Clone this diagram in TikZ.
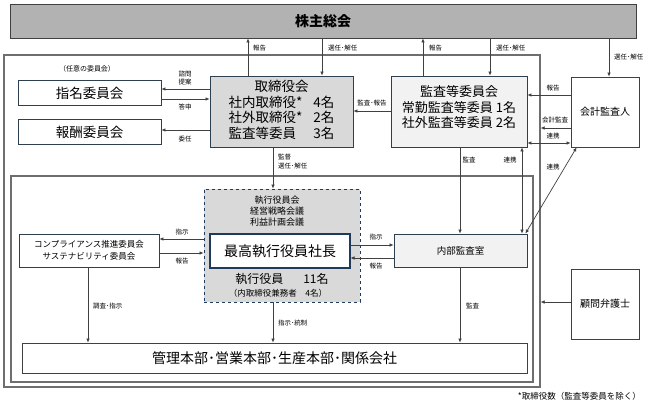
\documentclass[tikz,border=0pt]{standalone}
\usepackage{fontspec}
\setmainfont{Noto Sans CJK JP}
\usetikzlibrary{arrows.meta}
\definecolor{bordc}{HTML}{2E4050}
\definecolor{darkc}{HTML}{404040}
\definecolor{framec}{HTML}{6E6E6E}
\definecolor{gmfill}{HTML}{B2B2B2}
\definecolor{midfill}{HTML}{D9D9D9}
\definecolor{lightfill}{HTML}{F2F2F2}
\definecolor{ceoc}{HTML}{1F3A5A}
\begin{document}
\begin{tikzpicture}[x=1pt,y=-1pt,
  boxbase/.style={inner sep=0pt, line width=0.8pt, align=center},
  wbox/.style={boxbase, draw=bordc, fill=white},
  gbox/.style={boxbase, draw=bordc, fill=midfill},
  lbox/.style={boxbase, draw=bordc, fill=lightfill},
  kbox/.style={boxbase, draw=darkc, fill=white},
  framebox/.style={draw=framec, line width=1.2pt, inner sep=0pt},
  arr/.style={draw=darkc, line width=0.7pt, -{Latex[length=4pt,width=3.6pt]}},
  darr/.style={draw=darkc, line width=0.7pt, {Latex[length=4pt,width=3.6pt]}-{Latex[length=4pt,width=3.6pt]}},
  lab/.style={inner sep=0pt, font=\fontsize{6.5}{7.5}\selectfont, align=left},
  big/.style={font=\fontsize{13.5}{14}\selectfont},
]
\useasboundingbox (0,0) rectangle (648,407);
\fill[white] (0,0) rectangle (648,407);

% frames
\node[framebox, minimum width=536, minimum height=332] (outer) at (272,221) {};
\node[framebox, minimum width=522, minimum height=206] (inner) at (272,279) {};

% boxes
\node[boxbase, draw=darkc, fill=gmfill, minimum width=626, minimum height=34, font=\fontsize{14}{16}\selectfont\bfseries] (gm) at (323,21) {株主総会};
\node[lab, font=\fontsize{7}{8}\selectfont] (nini) at (87,69) {（任意の委員会）};
\node[wbox, minimum width=143, minimum height=25, big] (nom) at (89.5,93) {指名委員会};
\node[wbox, minimum width=143, minimum height=25, big] (rem) at (89.5,132) {報酬委員会};
\node[gbox, minimum width=143, minimum height=71, big] (bod) at (281.5,111.5)
 {\begin{tabular}{@{}l@{\hspace{11pt}}l@{}}\multicolumn{2}{@{}c@{}}{取締役会}\\ 社内取締役* & 4名\\ 社外取締役* & 2名\\ 監査等委員 & 3名\end{tabular}};
\node[lbox, minimum width=136, minimum height=71] (ac) at (459,111.5) {};
\node[inner sep=0pt, align=center, font=\fontsize{13}{15.5}\selectfont] (actext) at (459,107.5) {監査等委員会\\常勤監査等委員 1名\\社外監査等委員 2名};
\node[kbox, minimum width=68, minimum height=70, font=\fontsize{10}{12}\selectfont] (aud) at (605,112) {会計監査人};

\node[boxbase, draw=ceoc, fill=midfill, dashed, minimum width=156, minimum height=113] (grp) at (282,245.5) {};
\node[inner sep=0pt, align=center, font=\fontsize{9}{11}\selectfont] (grptop) at (277,211) {執行役員会\\経営戦略会議\\利益計画会議};
\node[boxbase, draw=ceoc, fill=white, line width=1.1pt, minimum width=140, minimum height=34, font=\fontsize{14}{16}\selectfont] (ceo) at (280,251) {最高執行役員社長};
\node[inner sep=0pt, font=\fontsize{12}{14}\selectfont] (exec) at (282,279) {執行役員\hspace{20pt}11名};
\node[inner sep=0pt, font=\fontsize{8.5}{10}\selectfont] (execsub) at (278,293) {（内取締役兼務者　4名）};

\node[wbox, minimum width=140, minimum height=33, font=\fontsize{8.5}{12}\selectfont] (comp) at (89,250.5) {コンプライアンス推進委員会\\サステナビリティ委員会};
\node[lbox, minimum width=133, minimum height=33, font=\fontsize{9.5}{11}\selectfont] (ia) at (460.5,250.5) {内部監査室};
\node[kbox, minimum width=68, minimum height=70, font=\fontsize{10}{12}\selectfont] (law) at (605,304) {顧問弁護士};
\node[kbox, minimum width=505, minimum height=30, font=\fontsize{14}{16}\selectfont] (bottom) at (274.5,358) {管理本部･営業本部･生産本部･関係会社};
\node[inner sep=0pt, anchor=east, font=\fontsize{8.5}{10}\selectfont] (foot) at (641,396) {*取締役数（監査等委員を除く）};

% helper coordinates
\coordinate (cA) at (248,0);
\coordinate (cB) at (322,0);
\coordinate (cC) at (423,0);
\coordinate (cD) at (490,0);
\coordinate (cE) at (609,0);
\coordinate (cF) at (273,0);
\coordinate (cG) at (460,0);
\coordinate (cH) at (522,0);
\coordinate (cI) at (88,0);
\coordinate (r89) at (0,89);
\coordinate (r99) at (0,99);
\coordinate (r130) at (0,130);
\coordinate (r111) at (0,111);
\coordinate (r95) at (0,95);
\coordinate (r128) at (0,128);
\coordinate (r143) at (0,143);
\coordinate (r239) at (0,239);
\coordinate (r253) at (0,253);
\coordinate (r245) at (0,245);
\coordinate (r258) at (0,258);
\coordinate (r302) at (0,302);

% top connectors
\draw[arr] (bod.north -| cA) -- (gm.south -| cA);
\node[lab, anchor=west] (l1) at (253,48) {報告};
\draw[arr] (gm.south -| cB) -- (bod.north -| cB);
\node[lab, anchor=west] (l2) at (328,48) {選任･解任};
\draw[arr] (ac.north -| cC) -- (gm.south -| cC);
\node[lab, anchor=west] (l3) at (429,48) {報告};
\draw[arr] (gm.south -| cD) -- (ac.north -| cD);
\node[lab, anchor=west] (l4) at (496,48) {選任･解任};
\draw[arr] (gm.south -| cE) -- (aud.north -| cE);
\node[lab, anchor=west] (l5) at (614,57) {選任･解任};

% committees
\draw[arr] (bod.west |- r89) -- (nom.east |- r89);
\node[lab, align=center] (l6) at (185,78) {諮問\\提案};
\draw[arr] (nom.east |- r99) -- (bod.west |- r99);
\node[lab] (l7) at (185,107) {答申};
\draw[arr] (bod.west |- r130) -- (rem.east |- r130);
\node[lab] (l8) at (185,139) {委任};

% audit committee
\draw[arr] (ac.west |- r111) -- (bod.east |- r111);
\node[lab] (l9) at (372,103) {監査･報告};
\draw[arr] (aud.west |- r95) -- (ac.east |- r95);
\node[lab] (l10) at (553,88) {報告};
\draw[arr] (aud.west |- r128) -- (outer.east |- r128);
\node[lab] (l11) at (555,120) {会計監査};
\draw[darr] (ac.east |- r143) -- (aud.west |- r143);
\node[lab] (l12) at (553,136) {連携};

% board to executive
\draw[arr] (bod.south -| cF) -- (grp.north -| cF);
\node[lab, anchor=west] (l13) at (278,157) {監督};
\node[lab, anchor=west] (l14) at (278,166) {選任･解任};

% compliance
\draw[arr] (grp.west |- r239) -- (comp.east |- r239);
\node[lab] (l15) at (182,232) {指示};
\draw[arr] (comp.east |- r253) -- (grp.west |- r253);
\node[lab] (l16) at (182,261) {報告};

% internal audit
\draw[arr] (ceo.east |- r245) -- (ia.west |- r245);
\node[lab] (l17) at (376,237) {指示};
\draw[arr] (ia.west |- r258) -- (ceo.east |- r258);
\node[lab] (l18) at (376,266) {報告};
\draw[arr] (ac.south -| cG) -- (ia.north -| cG);
\node[lab] (l19) at (469,160) {監査};
\draw[darr] (ia.north -| cH) -- (ac.south -| cH);
\node[lab] (l20) at (510,160) {連携};
\draw[darr] ([xshift=6pt]aud.south west) -- ([xshift=-2pt]ia.north east);
\node[lab] (l21) at (553,167) {連携};

% lower connectors
\draw[arr] (comp.south -| cI) -- (bottom.north -| cI);
\node[lab, anchor=west] (l22) at (93,306) {調査･指示};
\draw[arr] (grp.south -| cF) -- (bottom.north -| cF);
\node[lab, anchor=west] (l23) at (278,323) {指示･統制};
\draw[arr] (ia.south -| cG) -- (bottom.north -| cG);
\node[lab, anchor=west] (l24) at (466,306) {監査};
\draw[arr] (law.west |- r302) -- (outer.east |- r302);
\end{tikzpicture}
\end{document}
